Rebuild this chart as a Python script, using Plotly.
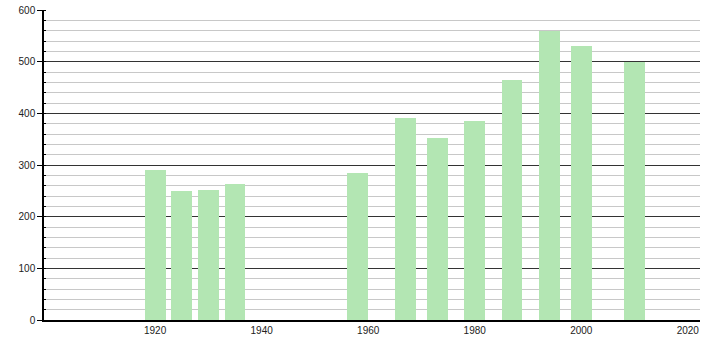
import plotly.graph_objects as go

years = [1920, 1925, 1930, 1935, 1958, 1967, 1973, 1980, 1987, 1994, 2000, 2010]
population = [291, 249, 252, 264, 285, 391, 353, 386, 465, 560, 531, 500]
x_ticks = [1920, 1940, 1960, 1980, 2000, 2020]
y_ticks = [0, 100, 200, 300, 400, 500, 600]

fig = go.Figure()
fig.add_trace(go.Bar(
    x=years, y=population, width=3.9,
    marker=dict(color="#b3e6b3", line=dict(width=0)),
    hoverinfo="x+y",
))

fig.update_layout(
    width=710, height=340,
    margin=dict(l=44, r=10, t=10, b=20, autoexpand=False),
    paper_bgcolor="white", plot_bgcolor="white",
    showlegend=False,
    font=dict(family="Liberation Sans, Arial, sans-serif", size=10, color="#222"),
    bargap=0,
)
fig.update_xaxes(
    range=[1899.14, 2022.29], automargin=False,
    tickmode="array", tickvals=x_ticks, ticktext=[str(t) for t in x_ticks],
    showgrid=False, zeroline=False,
    showline=True, linecolor="#000", linewidth=1.5,
    ticks="", ticklen=0,
)
fig.update_yaxes(
    range=[0, 600], automargin=False,
    tickmode="array", tickvals=y_ticks, ticktext=[str(t) for t in y_ticks],
    showgrid=True, gridcolor="#333", gridwidth=1,
    zeroline=False,
    showline=True, linecolor="#000", linewidth=1.5,
    ticks="outside", ticklen=5, tickcolor="#000",
    minor=dict(dtick=20, showgrid=True, gridcolor="#c8c8c8", gridwidth=1,
               ticks="inside", ticklen=2, tickcolor="#000"),
)

fig.write_html("out.html")
